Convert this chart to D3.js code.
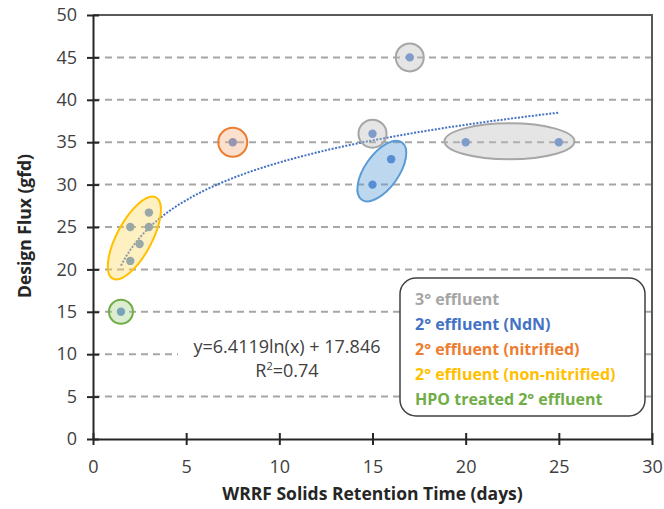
<!DOCTYPE html>
<html>
<head>
<meta charset="utf-8">
<script src="https://cdn.jsdelivr.net/npm/d3@7"></script>
<style>
  body { margin: 0; background: #fff; }
  svg { display: block; font-family: "Open Sans", sans-serif; }
</style>
</head>
<body>
<svg id="chart" width="664" height="509"></svg>
<script>
// data (SRT in days, design flux in gfd)
const srtTertiary = [17, 15, 20, 25];
const fluxTertiary = [45, 36, 35, 35];
const srtNdN = [15, 16];
const fluxNdN = [30, 33];
const srtNitrified = [7.5];
const fluxNitrified = [35];
const srtNonNitrified = [2, 2, 2.5, 3, 3];
const fluxNonNitrified = [25, 21, 23, 25, 26.7];
const srtHPO = [1.5];
const fluxHPO = [15];

// log fit shown on the chart
const fitA = 6.4119, fitB = 17.846, fitR2 = 0.74;
const fitRange = [1.5, 25];

const xTicks = [0, 5, 10, 15, 20, 25, 30];
const yTicks = [0, 5, 10, 15, 20, 25, 30, 35, 40, 45, 50];

const legendLabels = ["3° effluent", "2° effluent (NdN)", "2° effluent (nitrified)",
  "2° effluent (non-nitrified)", "HPO treated 2° effluent"];
const legendColors = ["#a6a6a6", "#4472c4", "#ed7d31", "#ffc000", "#70ad47"];

// highlight shapes around each group: center in data units
const highlights = [
  { cx: 17, cy: 45, rx: 14, ry: 14, angle: 0, color: "#a6a6a6", fill: "#bfbfbf" },
  { cx: 15, cy: 36, rx: 14, ry: 14, angle: 0, color: "#a6a6a6", fill: "#bfbfbf" },
  { cx: 22.35, cy: 35.1, rx: 65, ry: 18, angle: 0, color: "#a6a6a6", fill: "#bfbfbf" },
  { cx: 15.5, cy: 31.6, rx: 35, ry: 17, angle: -55, color: "#5b9bd5", fill: "#5b9bd5" },
  { cx: 7.5, cy: 35, rx: 14.5, ry: 14.5, angle: 0, color: "#ed7d31", fill: "#f4b183" },
  { cx: 2.22, cy: 23.7, rx: 46, ry: 17.5, angle: -62, color: "#ffc000", fill: "#ffd966" },
  { cx: 1.5, cy: 15, rx: 12, ry: 12, angle: 0, color: "#70ad47", fill: "#a9d18e" }
];

const margin = { top: 15, right: 12, bottom: 70, left: 93 };
const width = 664 - margin.left - margin.right,
      height = 509 - margin.top - margin.bottom;

const svg = d3.select("#chart");
const g = svg.append("g").attr("transform", `translate(${margin.left},${margin.top})`);

const x = d3.scaleLinear().domain([0, 30]).range([0, width]);
const y = d3.scaleLinear().domain([0, 50]).range([height, 0]);

// dashed gridlines
g.append("g").selectAll("line")
  .data(yTicks.filter(d => d > 0 && d < 50))
  .enter().append("line")
  .attr("x1", 0).attr("x2", width)
  .attr("y1", d => y(d)).attr("y2", d => y(d))
  .style("stroke", "#a6a6a6")
  .style("stroke-width", 2)
  .style("stroke-dasharray", "7,5");

// white box behind the equation
g.append("rect")
  .attr("x", 85).attr("y", 317)
  .attr("width", 222).attr("height", 53)
  .style("fill", "#fff");

// trend line
const fitXs = d3.range(fitRange[0], fitRange[1] + 0.001, 0.25);
g.append("path")
  .datum(fitXs)
  .attr("d", d3.line().x(d => x(d)).y(d => y(fitA * Math.log(d) + fitB)))
  .style("fill", "none")
  .style("stroke", "#4472c4")
  .style("stroke-width", 2)
  .style("stroke-dasharray", "2,1.5");

// points
const points = [];
[[srtTertiary, fluxTertiary], [srtNdN, fluxNdN], [srtNitrified, fluxNitrified],
 [srtNonNitrified, fluxNonNitrified], [srtHPO, fluxHPO]].forEach(([xs, ys]) => {
  xs.forEach((v, i) => points.push({ x: v, y: ys[i] }));
});
g.append("g").selectAll("circle")
  .data(points)
  .enter().append("circle")
  .attr("cx", d => x(d.x))
  .attr("cy", d => y(d.y))
  .attr("r", 4.2)
  .style("fill", "#5585d3");

// highlight ellipses on top
g.append("g").selectAll("ellipse")
  .data(highlights)
  .enter().append("ellipse")
  .attr("transform", d => `translate(${x(d.cx)},${y(d.cy)}) rotate(${d.angle})`)
  .attr("rx", d => d.rx)
  .attr("ry", d => d.ry)
  .style("fill", d => d.fill)
  .style("fill-opacity", 0.4)
  .style("stroke", d => d.color)
  .style("stroke-width", 2);

// plot border (top/right)
g.append("path")
  .attr("d", `M0,0H${width}V${height}`)
  .style("fill", "none")
  .style("stroke", "#595959")
  .style("stroke-width", 2);

// axes
const yAxis = g.append("g")
  .call(d3.axisLeft(y).tickValues(yTicks).tickSize(6).tickSizeOuter(0).tickPadding(10));
const xAxis = g.append("g")
  .attr("transform", `translate(0,${height})`)
  .call(d3.axisBottom(x).tickValues(xTicks).tickSize(6).tickSizeOuter(0).tickPadding(15));

yAxis.selectAll(".tick line").attr("x1", 6).attr("x2", -6);
xAxis.selectAll(".tick line").attr("y1", -6).attr("y2", 6);
[yAxis, xAxis].forEach(a => {
  a.select(".domain").style("stroke", "#262626").style("stroke-width", 2);
  a.selectAll(".tick line").style("stroke", "#262626").style("stroke-width", 2);
  a.selectAll(".tick text")
    .style("font-family", "'Open Sans', sans-serif")
    .style("font-size", "18px")
    .style("fill", "#404040");
});

// axis titles
svg.append("text")
  .attr("x", margin.left + x(15))
  .attr("y", 500)
  .attr("text-anchor", "middle")
  .style("font-size", "17.5px")
  .style("font-weight", "bold")
  .style("fill", "#262626")
  .text("WRRF Solids Retention Time (days)");

svg.append("text")
  .attr("transform", "translate(31,226) rotate(-90)")
  .attr("text-anchor", "middle")
  .style("font-size", "17.5px")
  .style("font-weight", "bold")
  .style("fill", "#262626")
  .text("Design Flux (gfd)");

// equation
const eq = svg.append("text")
  .attr("text-anchor", "middle")
  .style("font-size", "18px")
  .style("fill", "#404040");
eq.append("tspan").attr("x", 287).attr("y", 353)
  .text(`y=${fitA}ln(x) + ${fitB}`);
const r2 = eq.append("tspan").attr("x", 287).attr("y", 377).text("R");
r2.append("tspan").attr("dy", -7).style("font-size", "11px").text("2");
r2.append("tspan").attr("dy", 7).text(`=${fitR2}`);

// legend box
const legend = svg.append("g").attr("transform", "translate(400,278)");
legend.append("rect")
  .attr("width", 245).attr("height", 138)
  .attr("rx", 16)
  .style("fill", "#fff")
  .style("stroke", "#404040")
  .style("stroke-width", 1.5);
legend.selectAll("text")
  .data(legendLabels)
  .enter().append("text")
  .attr("x", 15)
  .attr("y", (d, i) => 27 + i * 25)
  .style("font-size", "16px")
  .style("font-weight", "bold")
  .style("fill", (d, i) => legendColors[i])
  .text(d => d);
</script>
</body>
</html>
